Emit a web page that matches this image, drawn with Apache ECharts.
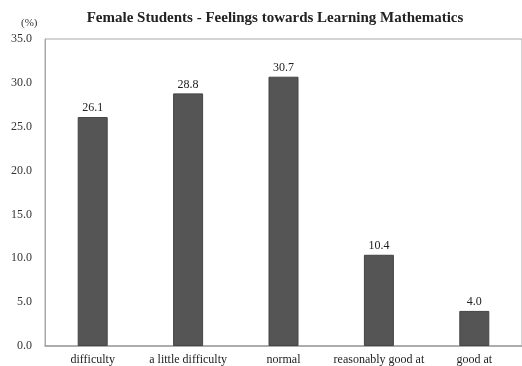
<!DOCTYPE html>
<html><head><meta charset="utf-8">
<script src="https://cdn.jsdelivr.net/npm/echarts@6/dist/echarts.min.js"></script>
<style>html,body{margin:0;padding:0;background:#fff}#c{width:522px;height:366px}</style>
</head><body><div id="c"></div>
<script>
var categories = ['difficulty', 'a little difficulty', 'normal', 'reasonably good at', 'good at'];
var values = [26.1, 28.8, 30.7, 10.4, 4.0];
var yTicks = [0, 5, 10, 15, 20, 25, 30, 35];
var titleText = 'Female Students - Feelings towards Learning Mathematics';
var unitText = '(%)';

var font = '"Liberation Serif", "Times New Roman", serif';
var chart = echarts.init(document.getElementById('c'));
chart.setOption({
  animation: false,
  title: {
    text: titleText, left: 270, top: 6, textAlign: 'center',
    textStyle: { fontFamily: font, fontSize: 15, fontWeight: 'bold', color: '#222' }
  },
  graphic: [{ type: 'text', left: 21, top: 18, style: { text: unitText, font: '11px ' + font, fill: '#333' } }],
  grid: { left: 45, top: 39, width: 485, height: 307, show: true, borderColor: '#a8a8a8', borderWidth: 1, backgroundColor: 'transparent' },
  xAxis: {
    type: 'category', data: categories,
    axisLine: { lineStyle: { color: '#a0a0a0', width: 1.5 } },
    axisTick: { show: false },
    axisLabel: { fontFamily: font, fontSize: 12, color: '#222', margin: 8, interval: 0 }
  },
  yAxis: {
    type: 'value', min: yTicks[0], max: yTicks[yTicks.length - 1], interval: 5,
    axisLine: { show: true, lineStyle: { color: '#a8a8a8' } },
    axisTick: { show: false },
    splitLine: { show: false },
    axisLabel: { fontFamily: font, fontSize: 12, color: '#333', margin: 13, formatter: function (v) { return v.toFixed(1); } }
  },
  series: [{
    type: 'bar', data: values, barWidth: 30,
    itemStyle: { color: '#555555', borderColor: '#444', borderWidth: 1 },
    label: { show: true, position: 'top', distance: 3, fontFamily: font, fontSize: 12, color: '#222', formatter: function (p) { return p.value.toFixed(1); } }
  }]
});
</script></body></html>
